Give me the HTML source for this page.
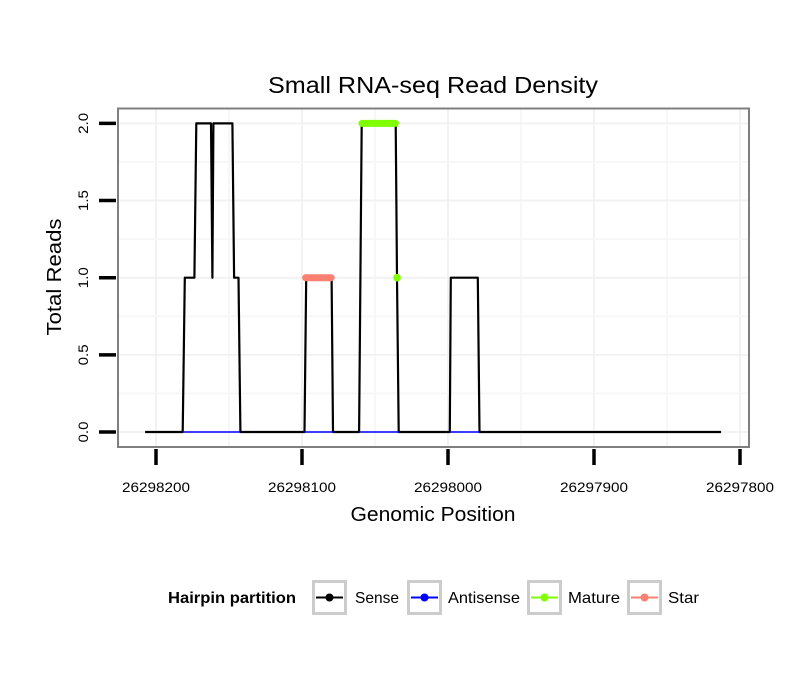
<!DOCTYPE html>
<html><head><meta charset="utf-8"><style>
body{margin:0;background:#fff;}
svg{display:block;font-family:"Liberation Sans",sans-serif;}
</style></head><body>
<svg id="chart" width="810" height="690" viewBox="0 0 810 690">
<rect width="810" height="690" fill="#fff"/>
<text x="433" y="93" font-size="23" text-anchor="middle" textLength="330" lengthAdjust="spacingAndGlyphs">Small RNA-seq Read Density</text>
<g id="grid"></g>
<g id="series"></g>
<rect x="118" y="108.5" width="631" height="338.5" fill="none" stroke="#7f7f7f" stroke-width="2"/>
<g id="axes"></g>
<text x="433" y="521" font-size="20" text-anchor="middle" textLength="165" lengthAdjust="spacingAndGlyphs">Genomic Position</text>
<text transform="translate(61,277) rotate(-90)" font-size="20" text-anchor="middle" textLength="117" lengthAdjust="spacingAndGlyphs">Total Reads</text>
<g>
<text x="168" y="603" font-size="16" font-weight="bold" textLength="128" lengthAdjust="spacingAndGlyphs">Hairpin partition</text>
<g><rect x="313.5" y="581.5" width="32" height="32" fill="#fff" stroke="#ccc" stroke-width="3"/><line x1="316" y1="597.5" x2="343" y2="597.5" stroke="#000" stroke-width="2"/><circle cx="329.5" cy="597.5" r="4" fill="#000"/><text x="355" y="603" font-size="16" textLength="44" lengthAdjust="spacingAndGlyphs">Sense</text></g>
<g><rect x="408.5" y="581.5" width="32" height="32" fill="#fff" stroke="#ccc" stroke-width="3"/><line x1="411" y1="597.5" x2="438" y2="597.5" stroke="#0000ff" stroke-width="2"/><circle cx="424.5" cy="597.5" r="4" fill="#0000ff"/><text x="448" y="603" font-size="16" textLength="72" lengthAdjust="spacingAndGlyphs">Antisense</text></g>
<g><rect x="528.5" y="581.5" width="32" height="32" fill="#fff" stroke="#ccc" stroke-width="3"/><line x1="531" y1="597.5" x2="558" y2="597.5" stroke="#7fff00" stroke-width="2"/><circle cx="544.5" cy="597.5" r="4" fill="#7fff00"/><text x="568" y="603" font-size="16" textLength="52" lengthAdjust="spacingAndGlyphs">Mature</text></g>
<g><rect x="628.5" y="581.5" width="32" height="32" fill="#fff" stroke="#ccc" stroke-width="3"/><line x1="631" y1="597.5" x2="658" y2="597.5" stroke="#fa8072" stroke-width="2"/><circle cx="644.5" cy="597.5" r="4" fill="#fa8072"/><text x="668" y="603" font-size="16" textLength="31" lengthAdjust="spacingAndGlyphs">Star</text></g>
</g>
</svg>
<script>
const senseX=[26298207.5,26298181.7,26298180.3,26298173.7,26298172.4,26298162.3,26298161.4,26298160.7,26298147.7,26298146.5,26298143.5,26298142.2,26298098.3,26298097.1,26298079.7,26298078.8,26298060.9,26298059.1,26298035.8,26298034.9,26298033.8,26297998.8,26297998.1,26297979.6,26297978.4,26297813];
const senseY=[0,0,1,1,2,2,1,2,2,1,1,0,0,1,1,0,0,2,2,1,0,0,1,1,0,0];
const antiStart=[26298181.7,26298098.3,26298060.9,26297998.8];
const antiEnd=[26298142.2,26298078.8,26298033.8,26297978.4];
const matureX=[26298059,26298036];
const matureY=[2,2];
const matureDotX=[26298034.9];
const matureDotY=[1];
const starX=[26298097.5,26298080];
const starY=[1,1];
const xTicks=[26298200,26298100,26298000,26297900,26297800];
const yTicks=[0,0.5,1,1.5,2];
const yTickLabels=["0.0","0.5","1.0","1.5","2.0"];

const NS="http://www.w3.org/2000/svg";
function X(v){return 156+(26298200-v)*1.46;}
function Y(v){return 432-v*154.3;}
function mk(tag,attrs,parent){const e=document.createElementNS(NS,tag);for(const k in attrs)e.setAttribute(k,attrs[k]);parent.appendChild(e);return e;}
const grid=document.getElementById('grid'),series=document.getElementById('series'),axes=document.getElementById('axes');
for(let i=0;i<xTicks.length;i++){
  const l=mk('line',{x1:X(xTicks[i]),x2:X(xTicks[i]),y1:109,y2:446,stroke:'#f2f2f2','stroke-width':2},grid);
  
  
  if(i<xTicks.length-1){const m=(xTicks[i]+xTicks[i+1])/2;
    const g=mk('line',{x1:X(m),x2:X(m),y1:109,y2:446,stroke:'#f7f7f7','stroke-width':2},grid);
    
    }
}
for(let i=0;i<yTicks.length;i++){
  const l=mk('line',{x1:119,x2:748,y1:Y(yTicks[i]),y2:Y(yTicks[i]),stroke:'#f2f2f2','stroke-width':2},grid);
  
  
  if(i<yTicks.length-1){const m=(yTicks[i]+yTicks[i+1])/2;
    const g=mk('line',{x1:119,x2:748,y1:Y(m),y2:Y(m),stroke:'#f7f7f7','stroke-width':2},grid);
    
    }
}
let d='';for(let i=0;i<senseX.length;i++)d+=(i?'L':'M')+X(senseX[i]).toFixed(1)+','+Y(senseY[i]).toFixed(1);
const sp=mk('path',{d:d,fill:'none',stroke:'#000','stroke-width':2.2,'stroke-linejoin':'round'},series);


for(let i=0;i<antiStart.length;i++){
  const a=mk('line',{x1:X(antiStart[i]),x2:X(antiEnd[i]),y1:Y(0),y2:Y(0),stroke:'#0000ff','stroke-width':1.6},series);
  
  
}
function seg(xs,ys,color,name){let p='';for(let i=0;i<xs.length;i++)p+=(i?'L':'M')+X(xs[i]).toFixed(1)+','+Y(ys[i]).toFixed(1);
  const e=mk('path',{d:p,fill:'none',stroke:color,'stroke-width':7,'stroke-linecap':'round'},series);
  
  }
seg(starX,starY,'#fa8072','star-line');
seg(matureX,matureY,'#7fff00','mature-line');
for(let i=0;i<matureDotX.length;i++){
  const c=mk('circle',{cx:X(matureDotX[i]),cy:Y(matureDotY[i]),r:3.8,fill:'#7fff00'},series);
  
  
}
for(let i=0;i<xTicks.length;i++){
  const t=mk('line',{x1:X(xTicks[i]),x2:X(xTicks[i]),y1:449,y2:465,stroke:'#000','stroke-width':3.5},axes);
  
  
  const lb=mk('text',{x:X(xTicks[i]),y:492,'font-size':14,'text-anchor':'middle',textLength:68,lengthAdjust:'spacingAndGlyphs'},axes);
  lb.textContent=String(xTicks[i]);
  
  
}
for(let i=0;i<yTicks.length;i++){
  const t=mk('line',{x1:99,x2:116,y1:Y(yTicks[i]),y2:Y(yTicks[i]),stroke:'#000','stroke-width':3.5},axes);
  
  
  const lb=mk('text',{transform:'translate(88,'+Y(yTicks[i])+') rotate(-90)','font-size':14,'text-anchor':'middle',textLength:21,lengthAdjust:'spacingAndGlyphs'},axes);
  lb.textContent=yTickLabels[i];
  
  
}
</script>
</body></html>
